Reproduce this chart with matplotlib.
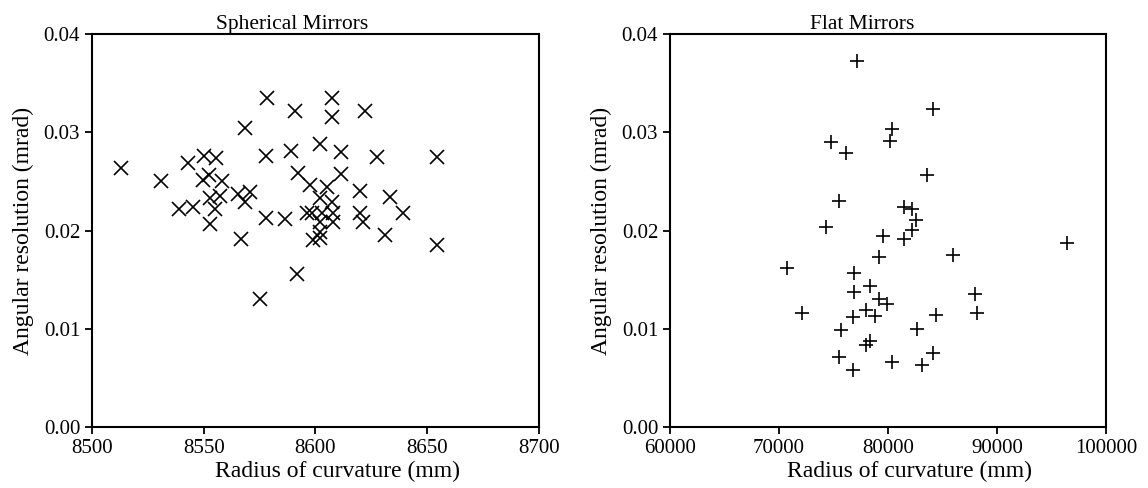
import numpy as np
import matplotlib
matplotlib.use('Agg')
import matplotlib.pyplot as plt
from matplotlib.ticker import FormatStrFormatter

plt.rcParams['font.family'] = ['Liberation Serif', 'DejaVu Serif']

# spherical mirrors: radius of curvature (mm), angular resolution (mrad)
sph_r = [8513.2, 8531.1, 8543.0, 8550.0, 8555.3, 8549.5, 8552.3, 8558.2, 8553.0, 8557.2,
         8555.0, 8565.4, 8570.9, 8568.5, 8538.9, 8545.0, 8553.0, 8568.5, 8578.2, 8577.7,
         8577.7, 8586.3, 8590.8, 8589.0, 8592.3, 8566.9, 8575.4, 8591.8, 8607.2, 8607.2,
         8622.1, 8602.0, 8611.4, 8627.4, 8654.5, 8611.4, 8597.5, 8605.2, 8602.0, 8607.2,
         8620.0, 8633.3, 8596.0, 8598.3, 8602.7, 8607.9, 8620.0, 8639.0, 8602.0, 8607.9,
         8621.4, 8602.0, 8599.0, 8602.0, 8631.1, 8654.2]
sph_res = [0.02633, 0.02507, 0.02684, 0.02756, 0.02735, 0.02514, 0.02565, 0.02507, 0.02328, 0.02354,
           0.02219, 0.02372, 0.02389, 0.02287, 0.02216, 0.02236, 0.02063, 0.03046, 0.03352, 0.02761,
           0.02130, 0.02117, 0.03216, 0.02812, 0.02582, 0.01910, 0.01303, 0.01557, 0.03346, 0.03158,
           0.03216, 0.02877, 0.02796, 0.02745, 0.02751, 0.02575, 0.02463, 0.02446, 0.02328, 0.02293,
           0.02402, 0.02338, 0.02181, 0.02175, 0.02181, 0.02181, 0.02181, 0.02175, 0.02090, 0.02090,
           0.02090, 0.01988, 0.01903, 0.01921, 0.01954, 0.01852]

# flat mirrors
flat_r = [77128, 84100, 80339, 80183, 74743, 76119, 83605, 75505, 74284, 81467,
          82174, 82541, 82174, 81495, 79513, 79201, 85990, 96393, 70706, 76881,
          76881, 78349, 79201, 79936, 77982, 78807, 76761, 72082, 84403, 87981,
          88192, 75660, 82687, 78349, 77982, 84100, 83146, 80394, 76761, 75505]
flat_res = [0.03725, 0.03237, 0.03030, 0.02911, 0.02904, 0.02786, 0.02565, 0.02300, 0.02039, 0.02236,
            0.02219, 0.02107, 0.02005, 0.01910, 0.01944, 0.01727, 0.01751, 0.01876, 0.01615, 0.01564,
            0.01371, 0.01438, 0.01303, 0.01249, 0.01191, 0.01133, 0.01117, 0.01157, 0.01140, 0.01351,
            0.01157, 0.00987, 0.00997, 0.00875, 0.00835, 0.00750, 0.00631, 0.00665, 0.00580, 0.00716]

sph_xticks = [8500, 8550, 8600, 8650, 8700]
flat_xticks = [60000, 70000, 80000, 90000, 100000]
yticks = [0.00, 0.01, 0.02, 0.03, 0.04]

fig = plt.figure(figsize=(11.48, 4.88), dpi=100)
ax1 = fig.add_axes([0.0801, 0.125, 0.3894, 0.8053])
ax2 = fig.add_axes([0.5836, 0.125, 0.3798, 0.8053])

ax1.plot(sph_r, sph_res, 'x', color='black', ms=10, mew=1.2)
ax2.plot(flat_r, flat_res, '+', color='black', ms=10, mew=1.2)

setup = [(ax1, sph_xticks, 'Spherical Mirrors', 0.447, 0.55),
         (ax2, flat_xticks, 'Flat Mirrors', 0.44, 0.55)]
for ax, xt, title, tx, lx in setup:
    ax.set_xlim(xt[0], xt[-1])
    ax.set_ylim(0, 0.04)
    ax.set_xticks(xt)
    ax.set_yticks(yticks)
    ax.yaxis.set_major_formatter(FormatStrFormatter('%.2f'))
    ax.tick_params(direction='out', length=5, width=1.3, labelsize=15, top=False, right=False)
    for s in ax.spines.values():
        s.set_linewidth(1.5)
    ax.set_xlabel('Radius of curvature (mm)', fontsize=17, labelpad=2, x=lx)
    ax.set_ylabel('Angular resolution (mrad)', fontsize=17, labelpad=7)
    ax.set_title(title, fontsize=15.5, x=tx, pad=2)

fig.savefig('out.png', dpi=100)
